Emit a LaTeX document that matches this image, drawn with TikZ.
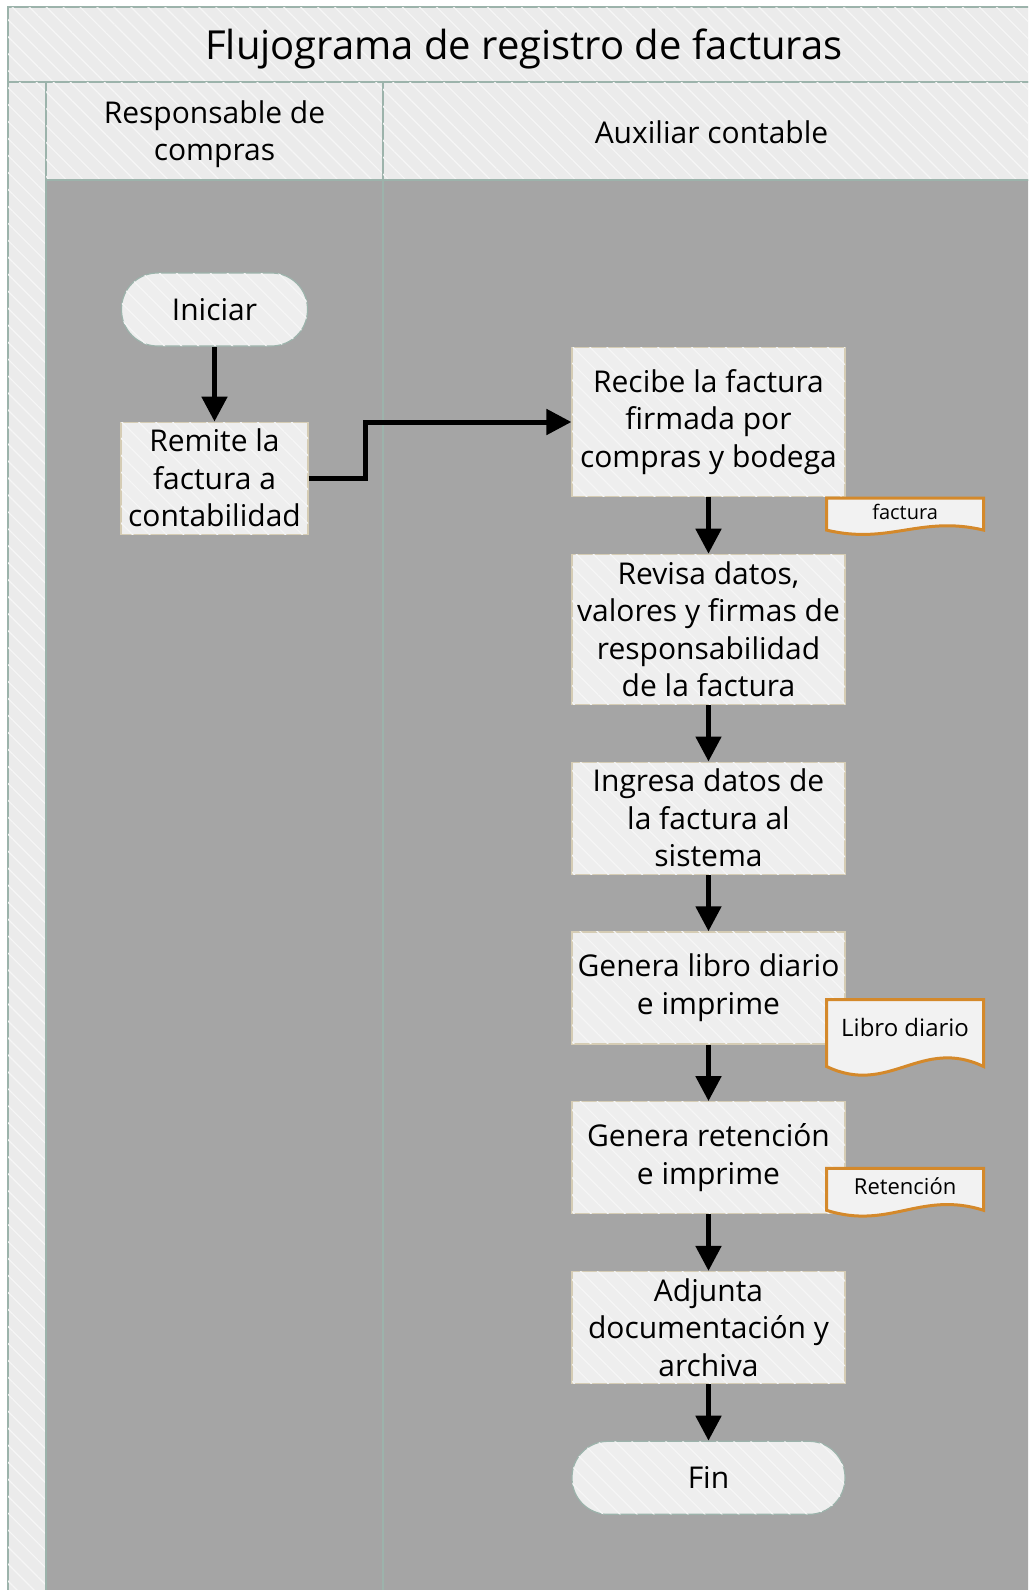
\documentclass[tikz,border=0pt]{standalone}
\usepackage{fontspec}
\setmainfont{Open Sans}
\usetikzlibrary{arrows.meta,positioning,calc,patterns.meta}
\definecolor{LaneGray}{HTML}{A5A5A5}
\definecolor{HeadFill}{HTML}{EBEBEB}
\definecolor{BoxFill}{HTML}{EEEEEE}
\definecolor{HatchLine}{HTML}{F6F6F6}
\definecolor{LaneLine}{HTML}{9CB3AB}
\definecolor{StepLine}{HTML}{D5CCB4}
\definecolor{DocLine}{HTML}{D4892B}
\definecolor{DocFill}{HTML}{F2F2F2}

% document symbol: corner, width, side height, wave
\newcommand{\docshape}[4]{%
  \filldraw[draw=DocLine, fill=DocFill, line width=1.5pt] (#1) -- ($(#1)+(#2,0)$) -- ($(#1)+(#2,#3)$)
    .. controls ($(#1)+(0.6*#2,#3-#4)$) and ($(#1)+(0.4*#2,#3+#4)$) .. ($(#1)+(0,#3)$) -- cycle;}

\begin{document}
\begin{tikzpicture}[x=0.5pt, y=-0.5pt, node distance=28.3pt,
    hatch/.style={postaction={pattern={Lines[angle=-45, distance=6pt, line width=0.6pt]}, pattern color=HatchLine}},
    lane/.style={draw=LaneLine, line width=0.75pt},
    stepbox/.style={draw=StepLine, fill=BoxFill, hatch, line width=0.6pt, minimum width=136.5pt, minimum height=56pt, align=center, inner xsep=2pt, inner ysep=0pt, font=\fontsize{15}{18.75}\selectfont},
    termbox/.style={draw=LaneLine, fill=BoxFill, hatch, line width=0.6pt, rounded corners=18pt, minimum height=36.5pt, font=\fontsize{15}{18.75}\selectfont},
    doctext/.style={inner sep=0pt, font=\fontsize{#1}{#1}\selectfont},
    flowarrow/.style={line width=2.5pt, -{Triangle[length=12.5pt, width=12.5pt]}}]
  \useasboundingbox (0,0) rectangle (1028,1590);
  \clip (0,0) rectangle (1028,1590);
  \fill[white] (0,0) rectangle (1028,1590);

  % pool and lanes
  \filldraw[lane, fill=HeadFill, hatch] (8,7) rectangle (1040,82);
  \filldraw[lane, fill=HeadFill, hatch] (8,82) rectangle (46,1600);
  \filldraw[lane, fill=HeadFill, hatch] (46,82) rectangle (383,180);
  \filldraw[lane, fill=HeadFill, hatch] (383,82) rectangle (1040,180);
  \filldraw[lane, fill=LaneGray] (46,180) rectangle (383,1600);
  \filldraw[lane, fill=LaneGray] (383,180) rectangle (1040,1600);

  \node[font=\fontsize{20}{24}\selectfont] (title) at (524,49) {Flujograma de registro de facturas};
  \node[align=center, font=\fontsize{15}{18.75}\selectfont] (headcompras) at (214.5,134) {Responsable de\\compras};
  \node[font=\fontsize{15}{18.75}\selectfont] (headaux) at (711.5,132) {Auxiliar contable};

  % Responsable de compras
  \node[termbox, minimum width=93pt] (iniciar) at (214.5,309.5) {Iniciar};
  \node[stepbox, minimum width=93.5pt, below=37.5pt of iniciar] (remite) {Remite la\\factura a\\contabilidad};

  % Auxiliar contable
  \node[stepbox, minimum height=74.5pt] (recibe) at (708.5,422) {Recibe la factura\\firmada por\\compras y bodega};
  \node[stepbox, minimum height=75pt, below=of recibe] (revisa) {Revisa datos,\\valores y firmas de\\responsabilidad\\de la factura};
  \node[stepbox, below=of revisa] (ingresa) {Ingresa datos de\\la factura al\\sistema};
  \node[stepbox, below=of ingresa] (libro) {Genera libro diario\\e imprime};
  \node[stepbox, below=of libro] (retencion) {Genera retención\\e imprime};
  \node[stepbox, below=of retencion] (adjunta) {Adjunta\\documentación y\\archiva};
  \node[termbox, minimum width=136.5pt, below=of adjunta] (fin) {Fin};

  % documents
  \coordinate (facnw) at ($(recibe.south east)+(-19,1)$);
  \docshape{facnw}{157}{32}{15}
  \node[doctext=10] (factura) at ($(facnw)+(78.5,14)$) {factura};
  \coordinate (libnw) at ($(libro.south east)+(-19,-45)$);
  \docshape{libnw}{157}{67}{30}
  \node[doctext=12] (librodiario) at ($(libnw)+(78.5,28)$) {Libro diario};
  \coordinate (retnw) at ($(retencion.south east)+(-19,-46)$);
  \docshape{retnw}{157}{42}{20}
  \node[doctext=11] (retdoc) at ($(retnw)+(78.5,18)$) {Retención};

  % connectors
  \draw[flowarrow] (iniciar) -- (remite);
  \draw[flowarrow] (remite.east) -- ++(57,0) |- (recibe.west);
  \draw[flowarrow] (recibe) -- (revisa);
  \draw[flowarrow] (revisa) -- (ingresa);
  \draw[flowarrow] (ingresa) -- (libro);
  \draw[flowarrow] (libro) -- (retencion);
  \draw[flowarrow] (retencion) -- (adjunta);
  \draw[flowarrow] (adjunta) -- (fin);
\end{tikzpicture}
\end{document}
